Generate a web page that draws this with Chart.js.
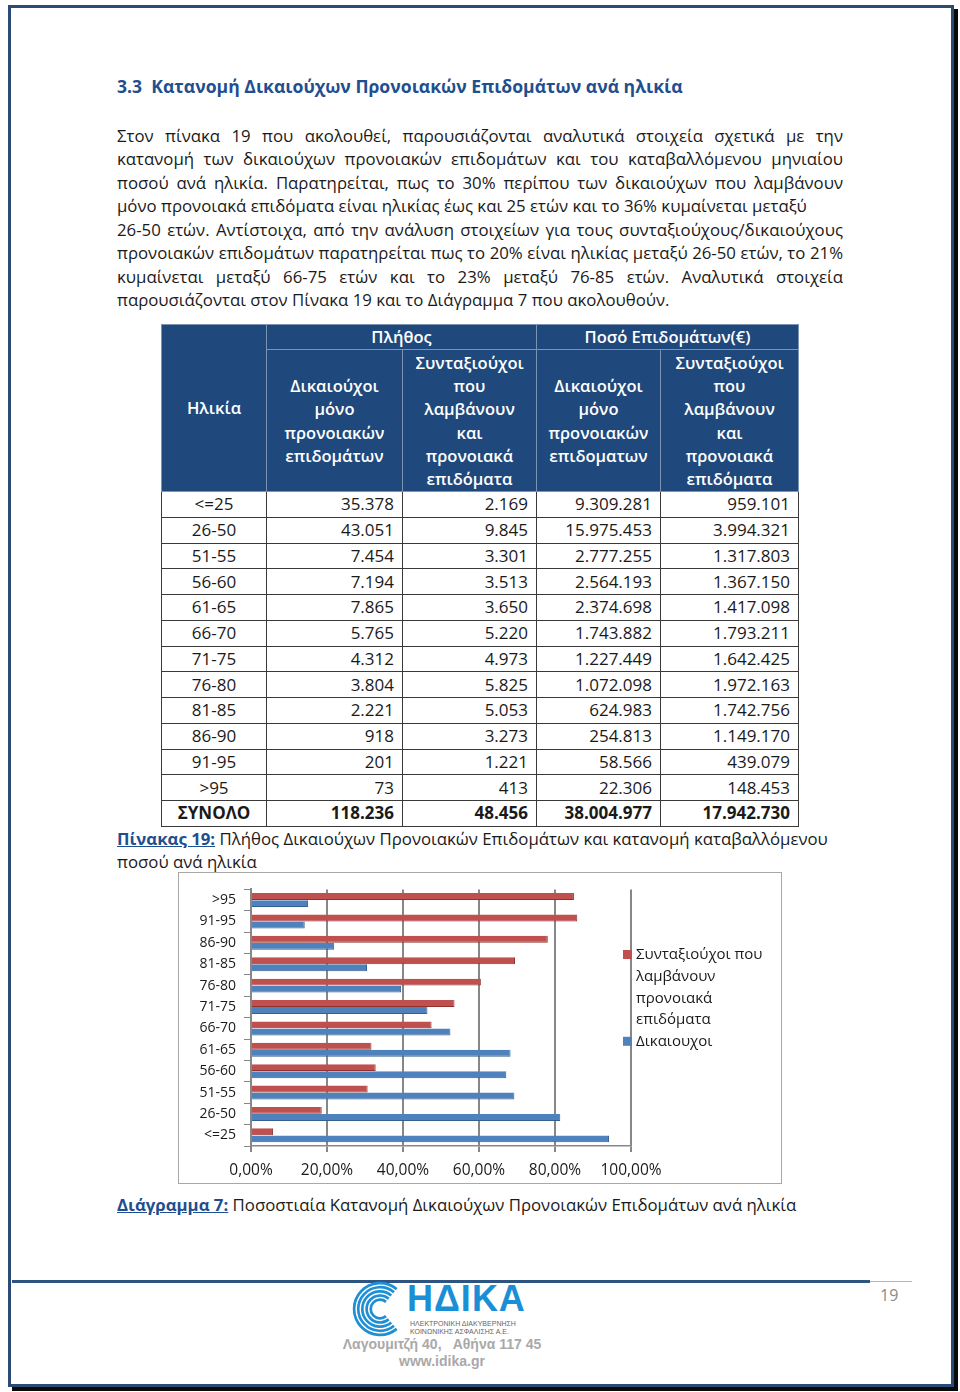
<!DOCTYPE html>
<html>
<head>
<meta charset="utf-8">
<script src="https://cdn.jsdelivr.net/npm/chart.js@4.4.0/dist/chart.umd.min.js"></script>
<style>
body{margin:0;width:960px;height:1392px;position:relative;background:#fff;font-family:"Open Sans",sans-serif;color:#1a1a1a;overflow:hidden}
.frame{position:absolute;left:8px;top:5px;width:946px;height:1382px;box-sizing:border-box;border:3px solid #2b4a74;box-shadow:4px 4px 0 #0a0a0a}
.abs{position:absolute;white-space:nowrap}
h2{position:absolute;left:117px;top:73.5px;margin:0;font-size:17.6px;line-height:24px;font-weight:700;color:#1f4f8f;white-space:pre}
.para{position:absolute;left:117px;top:124px;width:726px;font-size:16.8px;line-height:23.45px}
.para div{white-space:nowrap;text-align:justify;text-align-last:justify}
.para div.l{text-align-last:left}
table{position:absolute;left:161px;top:324px;border-collapse:collapse;table-layout:fixed;font-size:16.5px;line-height:23.3px}
th{background:#1f497d;color:#fff;font-weight:600;border:1px solid #7d93b2;padding:0 2px;vertical-align:middle}
td{border:1px solid #3a3a3a;padding:0 8px;text-align:right;height:24.75px;line-height:22px;font-size:17px}
td:first-child{text-align:center}
tr.tot td{font-weight:700}
.cap{position:absolute;left:117px;font-size:16.8px;line-height:23.4px;white-space:nowrap}
.cap b{color:#1f4f8f;text-decoration:underline}
#box{position:absolute;left:178px;top:872px;width:604px;height:312px;box-sizing:border-box;border:1px solid #a8a8a8}
.addr{position:absolute;left:322px;width:240px;text-align:center;font-family:'Liberation Sans',sans-serif;font-size:14px;line-height:17px;font-weight:700;color:#a9a9a9;white-space:pre}
</style>
</head>
<body>
<div class="frame"></div>

<h2>3.3  Κατανομή Δικαιούχων Προνοιακών Επιδομάτων ανά ηλικία</h2>

<div class="para">
<div>Στον πίνακα 19 που ακολουθεί, παρουσιάζονται αναλυτικά στοιχεία σχετικά με την</div>
<div>κατανομή των δικαιούχων προνοιακών επιδομάτων και του καταβαλλόμενου μηνιαίου</div>
<div>ποσού ανά ηλικία. Παρατηρείται, πως το 30% περίπου των δικαιούχων που λαμβάνουν</div>
<div class="l">μόνο προνοιακά επιδόματα είναι  ηλικίας έως και 25 ετών και το 36% κυμαίνεται μεταξύ</div>
<div>26-50 ετών. Αντίστοιχα, από την ανάλυση στοιχείων για τους συνταξιούχους/δικαιούχους</div>
<div>προνοιακών επιδομάτων παρατηρείται πως το 20% είναι ηλικίας μεταξύ 26-50 ετών, το 21%</div>
<div>κυμαίνεται μεταξύ 66-75 ετών και το 23% μεταξύ 76-85 ετών. Αναλυτικά στοιχεία</div>
<div class="l">παρουσιάζονται στον Πίνακα 19 και το Διάγραμμα 7 που ακολουθούν.</div>
</div>

<table id="tbl">
<colgroup><col style="width:105px"><col style="width:136px"><col style="width:134px"><col style="width:124px"><col style="width:138px"></colgroup>
<thead>
<tr style="height:25px"><th rowspan="2">Ηλικία</th><th colspan="2">Πλήθος</th><th colspan="2">Ποσό Επιδομάτων(€)</th></tr>
<tr style="height:142px"><th>Δικαιούχοι<br>μόνο<br>προνοιακών<br>επιδομάτων</th><th>Συνταξιούχοι<br>που<br>λαμβάνουν<br>και<br>προνοιακά<br>επιδόματα</th><th>Δικαιούχοι<br>μόνο<br>προνοιακών<br>επιδοματων</th><th>Συνταξιούχοι<br>που<br>λαμβάνουν<br>και<br>προνοιακά<br>επιδόματα</th></tr>
</thead>
<tbody id="tbody"></tbody>
</table>

<div class="cap" style="top:827px"><b>Πίνακας 19:</b>  Πλήθος Δικαιούχων Προνοιακών Επιδομάτων και κατανομή καταβαλλόμενου<br>ποσού ανά ηλικία</div>

<div id="box"><canvas id="myChart"></canvas></div>

<div class="cap" style="top:1193px"><b>Διάγραμμα 7:</b> Ποσοστιαία Κατανομή Δικαιούχων Προνοιακών Επιδομάτων ανά ηλικία</div>

<div class="abs" style="left:12px;top:1280px;width:858px;height:3px;background:#2e5582"></div>
<div class="abs" style="left:870px;top:1281px;width:42px;height:1px;background:#b5b5b5"></div>
<div class="abs" style="left:880px;top:1283px;font-size:16px;line-height:24px;color:#8a8a8a">19</div>

<svg class="abs" style="left:352px;top:1281px" width="56" height="56" viewBox="0 0 54 54">
<g fill="none" stroke="#1e8fd5" stroke-width="2.6">
<path d="M43.1 7.85 A25 25 0 1 0 43.1 46.15"/>
<path d="M40.5 10.9 A21 21 0 1 0 40.5 43.1"/>
<path d="M37.9 14 A17 17 0 1 0 37.9 40"/>
<path d="M35.4 17 A13 13 0 1 0 35.4 37"/>
<path d="M32.8 20.1 A9 9 0 1 0 32.8 33.9"/>
</g>
</svg>
<div class="abs" style="left:407px;top:1284px;font-family:'Liberation Sans',sans-serif;font-size:36px;line-height:30px;font-weight:700;letter-spacing:1px;color:#1b8fd6">ΗΔΙΚΑ</div>
<div class="abs" style="left:410px;top:1319.5px;font-family:'Liberation Sans',sans-serif;font-size:7px;line-height:8.5px;color:#666">ΗΛΕΚΤΡΟΝΙΚΗ ΔΙΑΚΥΒΕΡΝΗΣΗ<br>ΚΟΙΝΩΝΙΚΗΣ ΑΣΦΑΛΙΣΗΣ Α.Ε.</div>
<div class="addr" style="top:1336px">Λαγουμιτζή 40,   Αθήνα 117 45</div>
<div class="addr" style="top:1353px">www.idika.gr</div>

<script>
// table 19 values
const ageGroups = ['<=25', '26-50', '51-55', '56-60', '61-65', '66-70', '71-75', '76-80', '81-85', '86-90', '91-95', '>95'];
const countOnly = ['35.378', '43.051', '7.454', '7.194', '7.865', '5.765', '4.312', '3.804', '2.221', '918', '201', '73'];
const countBoth = ['2.169', '9.845', '3.301', '3.513', '3.650', '5.220', '4.973', '5.825', '5.053', '3.273', '1.221', '413'];
const amountOnly = ['9.309.281', '15.975.453', '2.777.255', '2.564.193', '2.374.698', '1.743.882', '1.227.449', '1.072.098', '624.983', '254.813', '58.566', '22.306'];
const amountBoth = ['959.101', '3.994.321', '1.317.803', '1.367.150', '1.417.098', '1.793.211', '1.642.425', '1.972.163', '1.742.756', '1.149.170', '439.079', '148.453'];
const totalLabel = 'ΣΥΝΟΛΟ';
const totals = ['118.236', '48.456', '38.004.977', '17.942.730'];

// chart 7 values (% per age group)
const pensionersPct = [5.78, 18.61, 30.69, 32.81, 31.70, 47.52, 53.56, 60.49, 69.47, 78.10, 85.86, 84.98];
const beneficiariesPct = [94.22, 81.39, 69.31, 67.19, 68.30, 52.48, 46.44, 39.51, 30.53, 21.90, 14.14, 15.02];
const seriesNames = [['Συνταξιούχοι που', 'λαμβάνουν', 'προνοιακά', 'επιδόματα'], ['Δικαιουχοι']];
const seriesColors = ['#c0504d', '#4f81bd'];
const seriesEdges = ['#8e3230', '#34608f'];

function buildTable() {
  var tb = document.getElementById('tbody');
  var html = '';
  for (var i = 0; i < ageGroups.length; i++) {
    html += '<tr><td>' + ageGroups[i] + '</td><td>' + countOnly[i] + '</td><td>' + countBoth[i] +
      '</td><td>' + amountOnly[i] + '</td><td>' + amountBoth[i] + '</td></tr>';
  }
  html += '<tr class="tot"><td>' + totalLabel + '</td><td>' + totals.join('</td><td>') + '</td></tr>';
  tb.innerHTML = html;
}
buildTable();

// legend on the right, with wrapped lines like the original
var sideLegend = {
  id: 'sideLegend',
  afterDraw: function(chart) {
    var ctx = chart.ctx;
    var x = chart.chartArea.right;
    var y = 82;
    ctx.save();
    ctx.font = '15px "Open Sans"';
    ctx.textBaseline = 'middle';
    for (var s = 0; s < seriesNames.length; s++) {
      ctx.fillStyle = seriesColors[s];
      ctx.fillRect(x - 8, y - 5, 9, 9);
      ctx.fillStyle = '#1a1a1a';
      for (var k = 0; k < seriesNames[s].length; k++) {
        ctx.fillText(seriesNames[s][k], x + 5, y);
        y += 21.7;
      }
    }
    ctx.restore();
  }
};

function drawGraph() {
  var ctx = document.getElementById('myChart').getContext('2d');
  new Chart(ctx, {
    type: 'bar',
    data: {
      labels: ageGroups,
      datasets: [
        {
          label: seriesNames[0].join(' '),
          data: pensionersPct,
          backgroundColor: seriesColors[0],
          borderColor: seriesEdges[0],
          borderWidth: {top: 0, right: 1, bottom: 1, left: 0},
          borderSkipped: false,
          categoryPercentage: 0.66,
          barPercentage: 0.98
        },
        {
          label: seriesNames[1][0],
          data: beneficiariesPct,
          backgroundColor: seriesColors[1],
          borderColor: seriesEdges[1],
          borderWidth: {top: 0, right: 1, bottom: 1, left: 0},
          borderSkipped: false,
          categoryPercentage: 0.66,
          barPercentage: 0.98
        }
      ]
    },
    options: {
      indexAxis: 'y',
      responsive: true,
      maintainAspectRatio: false,
      animation: false,
      layout: {padding: {top: 11, right: 150, bottom: 0, left: 0}},
      plugins: {legend: {display: false}, tooltip: {enabled: false}},
      scales: {
        x: {
          min: 0,
          max: 100,
          ticks: {
            stepSize: 20,
            padding: 9,
            color: '#1a1a1a',
            font: {family: 'Open Sans', size: 15.5},
            callback: function(v) { return v.toFixed(2).replace('.', ',') + '%'; }
          },
          grid: {color: '#878787', lineWidth: 2, tickLength: 6},
          border: {color: '#878787', width: 1.5},
          afterFit: function(scale) { scale.height = 37; }
        },
        y: {
          reverse: true,
          ticks: {color: '#1a1a1a', padding: 8, font: {family: 'Open Sans', size: 14}},
          grid: {drawOnChartArea: false, offset: true, tickLength: 7, color: '#878787'},
          border: {color: '#878787', width: 2},
          afterFit: function(scale) { scale.width = 72; }
        }
      }
    },
    plugins: [sideLegend]
  });
}

document.fonts.load('15px "Open Sans"').then(drawGraph, drawGraph);
</script>
</body>
</html>
